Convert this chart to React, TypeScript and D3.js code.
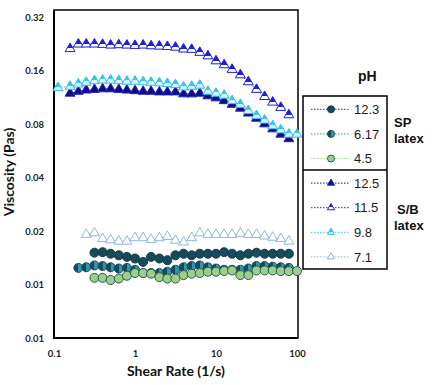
import React, { useEffect, useRef } from 'react';
import * as d3 from 'd3';

// shear rate grid (1/s)
const shearRate = [0.112, 0.158, 0.2, 0.25, 0.316, 0.398, 0.5, 0.631, 0.794, 1, 1.26, 1.58, 2, 2.51, 3.16, 3.98, 5.01, 6.31, 7.94, 10, 12.6, 15.8, 20, 25.1, 31.6, 39.8, 50.1, 63.1, 79.4, 100];

// SP latex
const sp123 = [null, null, null, null, 0.0151, 0.0152, 0.0149, 0.0146, 0.0143, 0.0140, 0.0134, 0.0143, 0.0140, 0.0137, 0.0146, 0.0149, 0.0146, 0.0149, 0.0149, 0.0149, 0.0152, 0.0149, 0.0146, 0.0149, 0.0151, 0.0149, 0.0149, 0.0149, 0.0149, null];
const sp617 = [null, null, 0.0124, 0.0125, 0.0128, 0.0127, 0.0125, 0.0123, 0.0124, 0.0121, 0.0116, 0.0116, 0.0116, 0.0118, 0.0121, 0.0125, 0.0127, 0.0128, 0.0125, 0.0123, 0.0121, 0.0121, 0.0121, 0.0123, 0.0127, 0.0127, 0.0126, 0.0125, 0.0124, null];
const sp45 = [null, null, null, null, 0.0109, 0.0109, 0.0106, 0.0108, 0.0112, 0.0116, 0.0116, 0.0115, 0.0110, 0.0108, 0.0108, 0.0113, 0.0115, 0.0116, 0.0118, 0.0118, 0.0119, 0.0120, 0.0113, 0.0113, 0.0120, 0.0120, 0.0120, 0.0119, 0.0119, 0.0119];

// S/B latex
const sb125 = [null, 0.119, 0.122, 0.124, 0.125, 0.126, 0.126, 0.125, 0.124, 0.123, 0.122, 0.122, 0.121, 0.121, 0.121, 0.118, 0.118, 0.119, 0.115, 0.112, 0.108, 0.103, 0.098, 0.092, 0.086, 0.080, 0.075, 0.070, 0.066, null];
const sb115 = [null, 0.212, 0.225, 0.225, 0.225, 0.224, 0.222, 0.223, 0.222, 0.221, 0.222, 0.220, 0.219, 0.218, 0.216, 0.211, 0.210, 0.202, 0.193, 0.181, 0.172, 0.162, 0.151, 0.138, 0.125, 0.114, 0.106, 0.099, 0.090, null];
const sb98 = [0.128, 0.130, 0.134, 0.137, 0.140, 0.141, 0.141, 0.140, 0.139, 0.139, 0.138, 0.137, 0.136, 0.135, 0.133, 0.129, 0.130, 0.132, 0.122, 0.119, 0.116, 0.108, 0.103, 0.095, 0.089, 0.084, 0.078, 0.074, 0.070, 0.070];
const sb71 = [null, null, null, 0.0191, 0.0195, 0.0181, 0.0178, 0.0175, 0.0175, 0.0183, 0.0183, 0.0179, 0.0183, 0.0186, 0.0177, 0.0173, 0.0183, 0.0195, 0.0191, 0.0191, 0.0191, 0.0191, 0.0194, 0.0191, 0.0191, 0.0187, 0.0184, 0.0181, 0.0175, null];

const pHLabels = ['12.3', '6.17', '4.5', '12.5', '11.5', '9.8', '7.1'];

const xTickValues = [0.1, 1, 10, 100];
const xTickLabels = ['0.1', '1', '10', '100'];
const yTickValues = [0.005, 0.01, 0.02, 0.04, 0.08, 0.16, 0.32];
const yTickLabels = ['0.01', '0.01', '0.02', '0.04', '0.08', '0.16', '0.32'];

export default function App() {
  const ref = useRef<SVGSVGElement>(null);

  useEffect(() => {
    document.body.style.margin = '0';
    const svg = d3.select(ref.current);
    svg.selectAll('*').remove();

    const x = d3.scaleLog().domain([0.1, 100]).range([54, 297]);
    const y = d3.scaleLog().base(2).domain([0.005, 0.32]).range([338, 17]);

    const defs = svg.append('defs');
    const grad = (id: string, vertical: boolean, c1: string, c2: string, stop: number) => {
      const g = defs.append('linearGradient').attr('id', id)
        .attr('x1', 0).attr('y1', 0)
        .attr('x2', vertical ? 0 : 1).attr('y2', vertical ? 1 : 0);
      g.append('stop').attr('offset', stop).attr('stop-color', c1);
      g.append('stop').attr('offset', stop).attr('stop-color', c2);
    };
    grad('g617', false, '#174a5a', '#2f98a8', 0.5);
    grad('g115', true, '#1f1fd6', '#ffffff', 0.62);
    grad('g98', true, '#3cc6ee', '#d8f4fc', 0.55);

    const series = [
      { values: sp123, shape: 'circle', fill: '#174a5a', stroke: '#123c4a', line: '#174a5a' },
      { values: sp617, shape: 'circle', fill: 'url(#g617)', stroke: '#174a5a', line: '#2f98a8' },
      { values: sp45, shape: 'circle', fill: '#9ccf8c', stroke: '#2c5a4e', line: '#9ccf8c' },
      { values: sb125, shape: 'tri', fill: '#0b0b88', stroke: '#2525b8', line: '#0b0b88' },
      { values: sb115, shape: 'tri', fill: 'url(#g115)', stroke: '#1f1fd6', line: '#1f1fd6' },
      { values: sb98, shape: 'tri', fill: 'url(#g98)', stroke: '#2cbfea', line: '#2cbfea' },
      { values: sb71, shape: 'tri', fill: '#ffffff', stroke: '#8cb6ea', line: '#8cb6ea' },
    ];

    // frame
    svg.append('rect')
      .attr('x', 54).attr('y', 10).attr('width', 244).attr('height', 328)
      .attr('fill', 'none').attr('stroke', '#000').attr('stroke-width', 1.5);
    svg.append('path')
      .attr('d', 'M54,10V338H298')
      .attr('fill', 'none').attr('stroke', '#000').attr('stroke-width', 2);

    const tickFont = (g: any) => g
      .attr('font-family', 'Lato, sans-serif')
      .attr('font-weight', 'bold')
      .attr('font-size', 9.5)
      .call((g: any) => g.select('.domain').remove())
      .call((g: any) => g.selectAll('text').attr('fill', '#222'));

    svg.append('g')
      .attr('transform', 'translate(0,338)')
      .call(d3.axisBottom(x).tickValues(xTickValues).tickFormat((d, i) => xTickLabels[i]).tickSize(0).tickPadding(12))
      .call(tickFont);

    svg.append('g')
      .attr('transform', 'translate(54,0)')
      .call(d3.axisLeft(y).tickValues(yTickValues).tickFormat((d, i) => yTickLabels[i]).tickSize(0).tickPadding(10))
      .call(tickFont);

    svg.append('text')
      .attr('x', 176).attr('y', 376)
      .attr('text-anchor', 'middle')
      .attr('font-family', 'Lato, sans-serif').attr('font-weight', 'bold').attr('font-size', 14)
      .attr('fill', '#111')
      .text('Shear Rate (1/s)');

    svg.append('text')
      .attr('transform', 'translate(14,172) rotate(-90)')
      .attr('text-anchor', 'middle')
      .attr('font-family', 'Lato, sans-serif').attr('font-weight', 'bold').attr('font-size', 14)
      .attr('fill', '#111')
      .text('Viscosity (Pas)');

    const line = d3.line<[number, number]>().x(d => x(d[0])).y(d => y(d[1]));
    const tri = d3.symbol(d3.symbolTriangle, 42);
    const triSmall = d3.symbol(d3.symbolTriangle, 22);

    series.forEach(s => {
      const pts = shearRate
        .map((r, i) => [r, s.values[i]] as [number, number | null])
        .filter(p => p[1] != null) as [number, number][];
      svg.append('path')
        .attr('d', line(pts))
        .attr('fill', 'none')
        .attr('stroke', s.line)
        .attr('stroke-width', 1)
        .attr('stroke-dasharray', '1.5,1.5');
      if (s.shape === 'circle') {
        svg.append('g').selectAll('circle').data(pts).join('circle')
          .attr('cx', d => x(d[0])).attr('cy', d => y(d[1])).attr('r', 4.5)
          .attr('fill', s.fill).attr('stroke', s.stroke).attr('stroke-width', 1);
      } else {
        svg.append('g').selectAll('path').data(pts).join('path')
          .attr('d', tri)
          .attr('transform', d => `translate(${x(d[0])},${y(d[1])})`)
          .attr('fill', s.fill).attr('stroke', s.stroke).attr('stroke-width', 1);
      }
    });

    // legend
    const lg = svg.append('g');
    lg.append('rect')
      .attr('x', 303).attr('y', 96).attr('width', 84).attr('height', 173)
      .attr('fill', '#fff').attr('stroke', '#000').attr('stroke-width', 1.5);
    lg.append('line')
      .attr('x1', 303).attr('x2', 387).attr('y1', 170).attr('y2', 170)
      .attr('stroke', '#000').attr('stroke-width', 1.5);

    series.forEach((s, i) => {
      const cy = 109.3 + i * 24.6;
      lg.append('line')
        .attr('x1', 311).attr('x2', 350).attr('y1', cy).attr('y2', cy)
        .attr('stroke', s.line).attr('stroke-width', 1).attr('stroke-dasharray', '1.5,1.5');
      if (s.shape === 'circle') {
        lg.append('circle').attr('cx', 331).attr('cy', cy).attr('r', 3.5)
          .attr('fill', s.fill).attr('stroke', s.stroke).attr('stroke-width', 1);
      } else {
        lg.append('path').attr('d', triSmall)
          .attr('transform', `translate(331,${cy})`)
          .attr('fill', s.fill).attr('stroke', s.stroke).attr('stroke-width', 1);
      }
      lg.append('text')
        .attr('x', 354).attr('y', cy + 4.7)
        .attr('font-family', '"Liberation Sans", Arial, sans-serif').attr('font-size', 13)
        .attr('fill', '#1a1a1a')
        .text(pHLabels[i]);
    });

    const bold = (t: string, tx: number, ty: number, size: number) =>
      svg.append('text')
        .attr('x', tx).attr('y', ty)
        .attr('font-family', '"Liberation Sans", Arial, sans-serif')
        .attr('font-weight', 'bold').attr('font-size', size)
        .attr('fill', '#111')
        .text(t);
    bold('pH', 358, 81, 14);
    bold('SP', 394, 127, 13);
    bold('latex', 394, 143, 13);
    bold('S/B', 397, 214, 13);
    bold('latex', 394, 230, 13);
  }, []);

  return <svg ref={ref} width={441} height={385} style={{ display: 'block', background: '#fff' }} />;
}
